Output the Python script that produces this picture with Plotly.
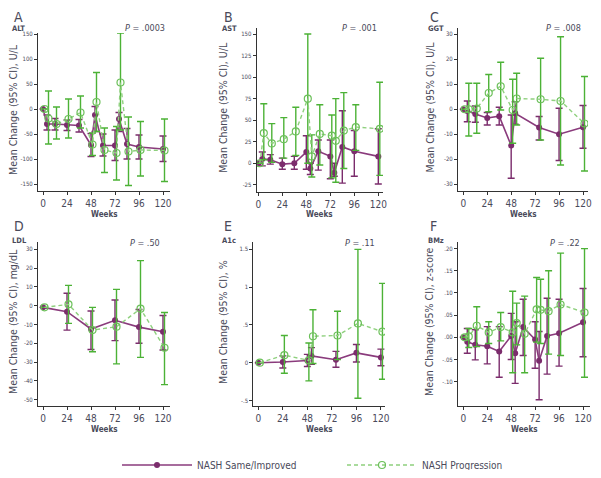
import plotly.graph_objects as go

# ---- data ----
weeks_full = [0, 4, 12, 24, 36, 48, 52, 60, 72, 76, 84, 96, 120]

alt_imp = [0, -30, -30, -32, -33, -72, -12, -73, -73, -20, -70, -76, -80]
alt_imp_lo = [0, -42, -42, -43, -46, -95, -45, -94, -103, -45, -100, -100, -105]
alt_imp_hi = [0, -12, -19, -22, -21, -49, 5, -50, -42, -7, -39, -52, -54]
alt_prog = [0, -19, -30, -20, -7, -71, 14, -82, -88, 53, -85, -82, -83]
alt_prog_lo = [0, -70, -60, -58, -38, -93, -45, -127, -142, -42, -153, -134, -145]
alt_prog_hi = [0, 36, 4, 20, 26, -48, 73, -38, -35, 152, -16, -25, -20]

ast_imp = [0, 5, 4, -1, 0, 13, -6, 14, 8, -11, 19, 14, 8]
ast_imp_lo = [0, -3, -1, -7, -7, -7, -13, -8, -18, -15, -23, -15, -24]
ast_imp_hi = [0, 13, 10, 6, 8, 32, 0, 27, 27, 0, 61, 38, 40]
ast_prog = [0, 35, 23, 28, 37, 75, 8, 34, 32, 26, 38, 42, 40]
ast_prog_lo = [0, 4, 1, 6, 9, 0, -16, -2, -17, -22, -6, 15, -14]
ast_prog_hi = [0, 69, 46, 53, 65, 150, 33, 68, 56, 75, 82, 68, 94]

weeks_ggt = [0, 4, 12, 24, 36, 48, 52, 76, 96, 120]
ggt_imp = [0, -0.7, -1.9, -3.5, -2.8, -14.5, -1.6, -7.3, -10, -7.2]
ggt_imp_lo = [0, -5, -5.2, -6.3, -6.3, -27.6, -6, -12.3, -20.5, -15.6]
ggt_imp_hi = [0, 3.3, 1.3, -1.3, 0.8, -2.3, 3, -2.9, 0.4, 1.5]
ggt_prog = [0, 0, 0.3, 6.5, 9.2, -0.3, 4.3, 4, 3.3, -5.7]
ggt_prog_lo = [0, -10.7, -9.6, -1, -0.3, -13.6, -6.3, -12.3, -22.3, -24.7]
ggt_prog_hi = [0, 10.4, 10.4, 13.9, 18.8, 12, 14.4, 20.4, 29, 13.1]

weeks_ldl = [0, 24, 48, 72, 96, 120]
ldl_imp = [-0.9, -3.2, -12.4, -7.8, -11.4, -13.9]
ldl_imp_lo = [-0.9, -13, -23.3, -18.6, -20, -23.6]
ldl_imp_hi = [-0.9, 6.6, -2.8, 3, -2, -5.2]
ldl_prog = [-0.9, 0.7, -13, -11.2, -1.6, -22.4]
ldl_prog_lo = [-0.9, -9.4, -24.5, -31, -27.5, -42]
ldl_prog_hi = [-0.9, 10.8, -0.9, 8.7, 24, -3.6]

weeks_a1c = [0, 24, 48, 52, 76, 96, 120]
a1c_imp = [0, 0.01, 0.03, 0.09, 0.04, 0.13, 0.07]
a1c_imp_lo = [0, -0.07, -0.05, -0.02, -0.06, 0.01, -0.04]
a1c_imp_hi = [0, 0.09, 0.11, 0.2, 0.15, 0.24, 0.18]
a1c_prog = [0, 0.1, 0.03, 0.35, 0.36, 0.52, 0.41]
a1c_prog_lo = [0, -0.14, -0.24, -0.01, 0.04, -0.47, -0.22]
a1c_prog_hi = [0, 0.36, 0.26, 0.7, 0.68, 1.5, 1.05]

bmz_imp = [0, -0.01, -0.017, -0.02, -0.032, 0.003, -0.036, 0.023, -0.005, -0.053, 0.003, 0.009, 0.034]
bmz_imp_lo = [0, -0.036, -0.051, -0.06, -0.09, -0.05, -0.104, -0.041, -0.07, -0.141, -0.083, -0.065, -0.044]
bmz_imp_hi = [0, 0.02, 0.017, 0.024, 0.024, 0.054, 0.035, 0.086, 0.035, 0.013, 0.088, 0.086, 0.11]
bmz_prog = [0, 0.002, 0.026, 0.011, 0.023, 0.011, 0.032, 0.008, 0.063, 0.062, 0.059, 0.074, 0.056]
bmz_prog_lo = [0, -0.023, -0.021, -0.014, -0.008, -0.08, -0.017, -0.08, -0.011, -0.014, -0.038, -0.041, -0.09]
bmz_prog_hi = [0, 0.02, 0.069, 0.035, 0.056, 0.104, 0.077, 0.093, 0.135, 0.131, 0.15, 0.19, 0.2]

x_ticks = [0, 24, 48, 72, 96, 120]
p_values = ["P = .0003", "P = .001", "P = .008", "P = .50", "P = .11", "P = .22"]
letters = ["A", "B", "C", "D", "E", "F"]
subtitles = ["ALT", "AST", "GGT", "LDL", "A1c", "BMz"]
units = ["U/L", "U/L", "U/L", "mg/dL", "%", "z-score"]

y_tick_vals = [
    [-150, -100, -50, 0, 50, 100, 150],
    [-25, 0, 25, 50, 75, 100, 125, 150],
    [-30, -20, -10, 0, 10, 20, 30],
    [-50, -40, -30, -20, -10, 0, 10, 20, 30],
    [-0.5, 0, 0.5, 1, 1.5],
    [-0.10, -0.05, 0, 0.05, 0.10, 0.15, 0.20],
]
y_tick_text = [
    ["-150", "-100", "-50", "0", "50", "100", "150"],
    ["-25", "0", "25", "50", "75", "100", "125", "150"],
    ["-30", "-20", "-10", "0", "10", "20", "30"],
    ["-50", "-40", "-30", "-20", "-10", "0", "10", "20", "30"],
    ["-.5", "0", ".5", "1", "1.5"],
    ["-.10", "-.05", ".00", ".05", ".10", ".15", ".20"],
]

panels = [
    (weeks_full, alt_imp, alt_imp_lo, alt_imp_hi, alt_prog, alt_prog_lo, alt_prog_hi),
    (weeks_full, ast_imp, ast_imp_lo, ast_imp_hi, ast_prog, ast_prog_lo, ast_prog_hi),
    (weeks_ggt, ggt_imp, ggt_imp_lo, ggt_imp_hi, ggt_prog, ggt_prog_lo, ggt_prog_hi),
    (weeks_ldl, ldl_imp, ldl_imp_lo, ldl_imp_hi, ldl_prog, ldl_prog_lo, ldl_prog_hi),
    (weeks_a1c, a1c_imp, a1c_imp_lo, a1c_imp_hi, a1c_prog, a1c_prog_lo, a1c_prog_hi),
    (weeks_full, bmz_imp, bmz_imp_lo, bmz_imp_hi, bmz_prog, bmz_prog_lo, bmz_prog_hi),
]

# ---- layout geometry (pixels in the 601x478 picture) ----
# the page body has an 8px margin, so the figure is a bit smaller and offset
PAGE_PAD = 8
W, H = 601 - 2 * PAGE_PAD, 478 - 2 * PAGE_PAD
def px(x):
    return (x - PAGE_PAD) / W
def py(y):
    return 1 - (y - PAGE_PAD) / H

# left, right, top, bottom of each plot area, plus axis ranges
boxes = [
    (38, 170, 33, 191, [-5, 127], [-164, 152]),
    (256.7, 383, 28, 191.7, [-1.6, 124.7], [-33, 157]),
    (458, 588, 28, 191, [-5.3, 125], [-32.7, 32.5]),
    (38, 170, 242, 406, [-5, 127], [-53.4, 33.9]),
    (253.3, 385, 242, 406, [-4.9, 124], [-0.573, 1.597]),
    (458, 590, 242, 406, [-5.3, 127], [-0.155, 0.215]),
]
letter_x = [12, 222, 428, 12, 222, 428]

PURPLE = "#8a3b7c"
PURPLE_DARK = "#7b2c6c"
GREEN = "#4cb236"
GREEN_LIGHT = "#8fd07e"
TEXT = "#4a4a5a"
FONT = "Liberation Sans Narrow, DejaVu Sans Condensed, Roboto, sans-serif"
dodge = 1.5

fig = go.Figure()
layout = dict(
    width=W, height=H,
    margin=dict(l=0, r=0, t=0, b=0, autoexpand=False),
    paper_bgcolor="white", plot_bgcolor="white",
    font=dict(family=FONT, color=TEXT),
    showlegend=True,
    legend=dict(orientation="h", x=px(117), y=py(465), xanchor="left", yanchor="middle",
                entrywidth=140, entrywidthmode="pixels", itemwidth=70,
                font=dict(size=10, color=TEXT), bgcolor="rgba(0,0,0,0)"),
)
annotations = []

for i, (wk, imp, imp_lo, imp_hi, prog, prog_lo, prog_hi) in enumerate(panels):
    n = i + 1
    xa = "x" if n == 1 else f"x{n}"
    ya = "y" if n == 1 else f"y{n}"
    l, r, t, b, xr, yr = boxes[i]
    top_row = i < 3

    fig.add_trace(go.Scatter(
        x=wk, y=imp, xaxis=xa, yaxis=ya, mode="lines+markers",
        name="NASH Same/Improved", showlegend=(i == 0),
        line=dict(color=PURPLE, width=1.6),
        marker=dict(symbol="circle", size=6, color=PURPLE_DARK),
        error_y=dict(type="data", symmetric=False,
                     array=[h - m for h, m in zip(imp_hi, imp)],
                     arrayminus=[m - lo for m, lo in zip(imp, imp_lo)],
                     color=PURPLE_DARK, thickness=1.4, width=3.5),
    ))
    fig.add_trace(go.Scatter(
        x=[w + dodge for w in wk], y=prog, xaxis=xa, yaxis=ya, mode="lines+markers",
        name="NASH Progression", showlegend=(i == 0),
        line=dict(color=GREEN_LIGHT, width=1.4, dash="4px,3px"),
        marker=dict(symbol="circle-open", size=7, color="#6cc05a", line=dict(width=1.2)),
        error_y=dict(type="data", symmetric=False,
                     array=[h - m for h, m in zip(prog_hi, prog)],
                     arrayminus=[m - lo for m, lo in zip(prog, prog_lo)],
                     color=GREEN, thickness=1.4, width=3.5),
    ))

    axis_common = dict(showgrid=False, zeroline=False, showline=True, linecolor="#333",
                       linewidth=1, ticks="outside", ticklen=3, tickcolor="#333")
    layout["xaxis" if n == 1 else f"xaxis{n}"] = dict(
        axis_common, domain=[px(l), px(r)], range=xr, anchor=ya,
        tickvals=x_ticks, tickfont=dict(size=10, color=TEXT))
    layout["yaxis" if n == 1 else f"yaxis{n}"] = dict(
        axis_common, domain=[py(b), py(t)], range=yr, anchor=xa,
        tickvals=y_tick_vals[i], ticktext=y_tick_text[i],
        tickfont=dict(size=6, color=TEXT))

    # panel letter and measure name
    annotations.append(dict(text=letters[i], xref="paper", yref="paper",
                            x=px(letter_x[i]), y=py(17 if top_row else 226),
                            xanchor="left", yanchor="middle", showarrow=False,
                            font=dict(size=14, color=TEXT)))
    annotations.append(dict(text=f"<b>{subtitles[i]}</b>", xref="paper", yref="paper",
                            x=px(letter_x[i] - 2), y=py(29 if top_row else 240),
                            xanchor="left", yanchor="middle", showarrow=False,
                            font=dict(size=7.5, color=TEXT)))
    # y title
    annotations.append(dict(text=f"Mean Change (95% CI), {units[i]}", xref="paper", yref="paper",
                            x=px(letter_x[i] + 1), y=py((t + b) / 2 - 2), textangle=-90,
                            xanchor="center", yanchor="middle", showarrow=False,
                            font=dict(size=10.5, color=TEXT)))
    # x title
    annotations.append(dict(text="<b>Weeks</b>", xref=f"{xa} domain", yref="paper",
                            x=0.5, y=py(b + 23), xanchor="center", yanchor="middle",
                            showarrow=False, font=dict(size=8, color=TEXT)))
    # p value
    pv = p_values[i].replace("P", "<i>P</i>", 1)
    annotations.append(dict(text=pv, xref=f"{xa} domain", yref="paper",
                            x=0.81, y=py(28 if top_row else 243), xanchor="center", yanchor="middle",
                            showarrow=False, font=dict(size=9, color=TEXT)))

layout["annotations"] = annotations
fig.update_layout(**layout)

fig.write_html("out.html")
